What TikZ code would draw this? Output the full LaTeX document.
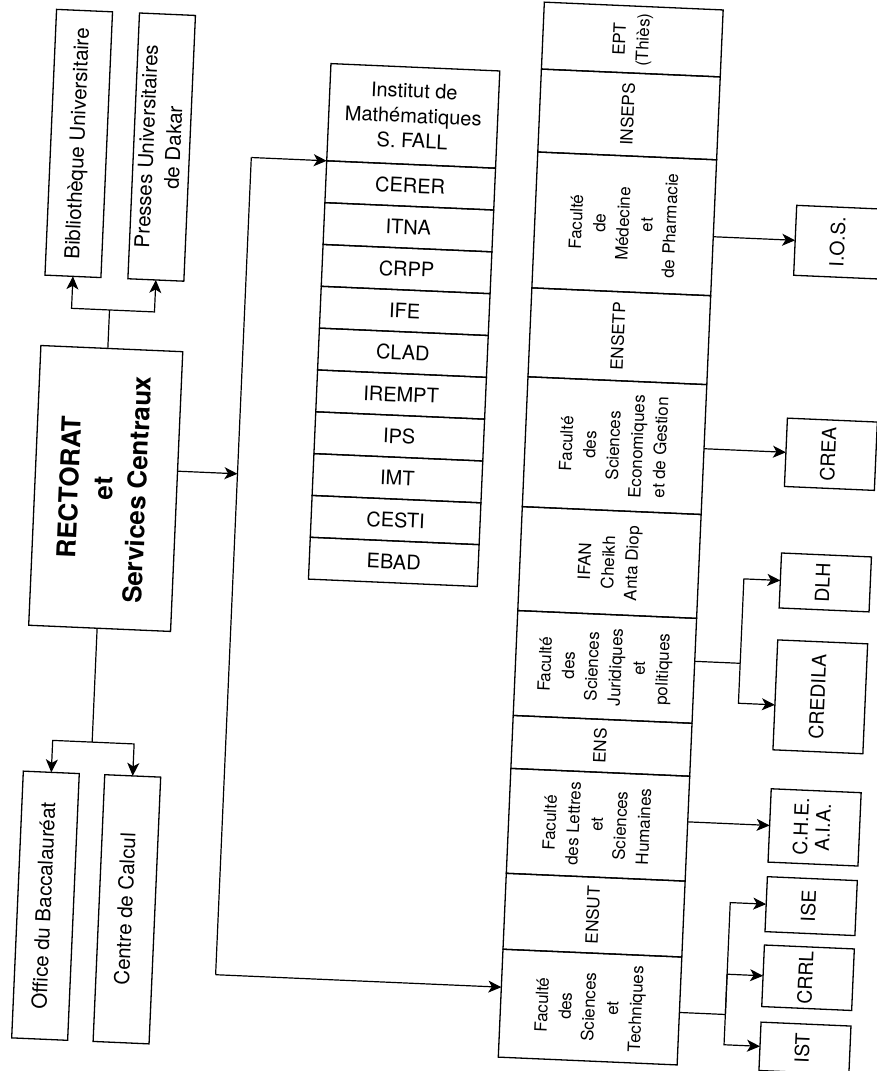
\documentclass[tikz,border=0pt]{standalone}
\usepackage{fontspec}
\setmainfont{TeX Gyre Heros}
\usepackage{graphicx}
\usetikzlibrary{arrows.meta}
\newcommand{\rotlbl}[1]{\rotatebox{90}{\begin{tabular}{@{}c@{}}#1\end{tabular}}}
\begin{document}
\begin{tikzpicture}[x=1pt,y=-1pt,
  box/.style={draw, line width=1.3pt, inner sep=0pt, outer sep=0pt, anchor=north west, align=center},
  sidebox/.style={box, minimum width=56pt, minimum height=266pt, font=\fontsize{20.5}{27}\selectfont},
  icell/.style={box, minimum width=169pt, minimum height=41.87pt, font=\fontsize{20}{25}\selectfont},
  fac/.style={box, minimum width=179pt, font=\fontsize{17}{23.5}\selectfont},
  rbox/.style={box, minimum width=90pt, font=\fontsize{19.5}{22}\selectfont},
  conn/.style={line width=1.2pt},
  arr/.style={conn, -{Stealth[length=13pt,width=12pt,inset=3.5pt]}}
]
\fill[white] (0,0) rectangle (877,1071);
\useasboundingbox (0,0) rectangle (877,1071);
\begin{scope}[transform canvas={rotate around={-2.5:(438,535)}}]
% left column
\node[sidebox] (bib) at (34,26.5) {\rotlbl{Bibliothèque Universitaire}};
\node[sidebox] (pud) at (117,26.5) {\rotlbl{Presses Universitaires\\de Dakar}};
\node[box, minimum width=142pt, minimum height=280pt, font=\fontsize{26}{34}\selectfont\bfseries] (rect) at (33,363) {\rotlbl{RECTORAT\\et\\Services Centraux}};
\node[sidebox, minimum height=267pt] (obac) at (34,789) {\rotlbl{Office du Baccalauréat}};
\node[sidebox, minimum height=267pt] (calc) at (115.5,789) {\rotlbl{Centre de Calcul}};
% institut column
\node[icell, minimum height=97.3pt] (imath) at (310.5,68.7) {Institut de\\Mathématiques\\S. FALL};
\foreach \lbl [count=\i from 0] in {CERER,ITNA,CRPP,IFE,CLAD,IREMPT,IPS,IMT,CESTI,EBAD}
  \node[icell] (\lbl) at (310.5,{166+41.87*\i}) {\lbl};
% faculties column
\node[fac, minimum height=67pt] (ept) at (521,-2) {\rotlbl{EPT\\(Thiès)}};
\node[fac, minimum height=83pt] (inseps) at (521,65) {\rotlbl{INSEPS}};
\node[fac, minimum height=136pt] (med) at (521,148) {\rotlbl{Faculté\\de\\Médecine\\et\\de Pharmacie}};
\node[fac, minimum height=89pt] (ensetp) at (521,284) {\rotlbl{ENSETP}};
\node[fac, minimum height=130pt] (fseg) at (521,373) {\rotlbl{Faculté\\des\\Sciences\\Economiques\\et de Gestion}};
\node[fac, minimum height=104pt] (ifan) at (521,503) {\rotlbl{IFAN\\Cheikh\\Anta Diop}};
\node[fac, minimum height=105pt] (fsjp) at (521,607) {\rotlbl{Faculté\\des\\Sciences\\Juridiques\\et\\politiques}};
\node[fac, minimum height=53pt] (ens) at (521,712) {\rotlbl{ENS}};
\node[fac, minimum height=105pt] (flsh) at (521,765) {\rotlbl{Faculté\\des Lettres\\et\\Sciences\\Humaines}};
\node[fac, minimum height=76pt] (ensut) at (521,870) {\rotlbl{ENSUT}};
\node[fac, minimum height=108pt] (fst) at (521,946) {\rotlbl{Faculté\\des\\Sciences\\et\\Techniques}};
% right boxes
\node[rbox, minimum height=70pt] (ios) at (782,190) {\rotlbl{I.O.S.}};
\node[rbox, minimum height=68.4pt] (crea) at (782,403) {\rotlbl{CREA}};
\node[rbox, minimum height=55pt] (dlh) at (782,538) {\rotlbl{DLH}};
\node[rbox, minimum height=110pt] (credila) at (782,625) {\rotlbl{CREDILA}};
\node[rbox, minimum height=73.4pt] (che) at (782,774) {\rotlbl{C.H.E.\\A.I.A.}};
\node[rbox, minimum height=55pt] (ise) at (782,862) {\rotlbl{ISE}};
\node[rbox, minimum height=61.6pt] (crrl) at (782,930.4) {\rotlbl{CRRL}};
\node[rbox, minimum height=48.4pt] (ist) at (782,1007.6) {\rotlbl{IST}};
% connectors left
\coordinate (jt) at (100,324.5);
\draw[conn] (jt |- rect.north) -- (jt);
\draw[arr] (jt) -| (bib.south);
\draw[arr] (jt) -| (pud.south);
\coordinate (jb) at (101.5,757);
\draw[conn] (rect.south -| jb) -- (jb);
\draw[arr] (jb) -| (obac.north);
\draw[arr] (jb) -| (calc.north);
% main trunk
\coordinate (mt) at (235,166);
\coordinate (mm) at (235,482.6);
\coordinate (mb) at (235,984);
\draw[conn] (mt) -- (mb);
\draw[arr] (rect.east |- mm) -- (mm);
\draw[arr] (mt) -- (imath.south west);
\draw[arr] (mb) -- (mb -| fst.west);
% connectors right
\draw[arr] (ios.west -| med.east) -- (ios.west);
\draw[arr] (crea.west -| fseg.east) -- (crea.west);
\coordinate (bj) at (745.5,650);
\coordinate (credarr) at (782,690);
\draw[conn] (bj -| fsjp.east) -- (bj);
\draw[arr] (bj) |- (dlh.west);
\draw[arr] (bj) |- (credila.west |- credarr);
\draw[arr] (che.west -| flsh.east) -- (che.west);
\coordinate (bk) at (746,1001.5);
\draw[conn] (bk -| fst.east) -- (bk);
\draw[arr] (bk) |- (ise.west);
\draw[arr] (bk) |- (crrl.west);
\draw[arr] (bk) |- (ist.west);
\end{scope}
\end{tikzpicture}
\end{document}
